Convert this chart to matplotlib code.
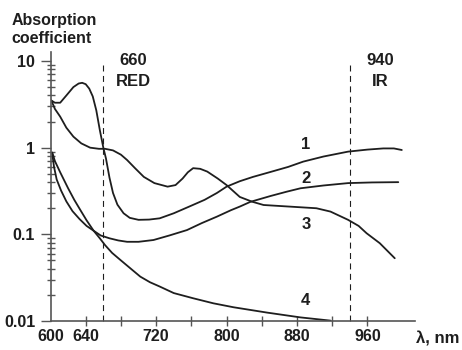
import matplotlib
matplotlib.use("Agg")
import matplotlib.pyplot as plt
from matplotlib.ticker import FixedLocator, LogLocator, NullFormatter

plt.rcParams['font.family'] = ['Liberation Sans', 'DejaVu Sans']
plt.rcParams['font.weight'] = 'bold'
plt.rcParams['lines.scale_dashes'] = False

# ---- data ----
c1_x = [601, 605, 611, 618, 626, 632, 636, 640, 644, 648, 652, 656, 660, 663, 667, 671, 676, 683, 690, 700,
        712, 724, 740, 758, 775, 789, 800, 815, 830, 850, 870, 887, 910, 938, 960, 978, 990, 999]
c1_y = [3.5, 3.3, 3.3, 4.0, 5.0, 5.5, 5.6, 5.4, 4.8, 3.9, 2.7, 1.6, 1.0, 0.75, 0.45, 0.30, 0.22, 0.175, 0.155, 0.147,
        0.148, 0.153, 0.175, 0.21, 0.25, 0.30, 0.355, 0.41, 0.46, 0.525, 0.60, 0.69, 0.79, 0.90, 0.95, 0.98, 0.98, 0.94]

c2_x = [602, 604, 607, 612, 618, 625, 633, 641, 649, 657, 667, 677, 687, 700, 717, 735, 755, 772, 789, 805,
        815, 827, 850, 868, 884, 910, 938, 965, 995]
c2_y = [0.85, 0.6, 0.43, 0.32, 0.24, 0.185, 0.15, 0.125, 0.11, 0.097, 0.09, 0.085, 0.082, 0.082, 0.086, 0.097,
        0.112, 0.135, 0.16, 0.19, 0.209, 0.237, 0.277, 0.31, 0.34, 0.366, 0.39, 0.397, 0.40]

c3_x = [601, 605, 611, 618, 626, 635, 645, 655, 662, 671, 680, 687, 696, 706, 718, 733, 742, 750, 756, 762,
        770, 778, 790, 800, 815, 829, 842, 868, 902, 918, 938, 950, 959, 974, 991]
c3_y = [3.5, 2.8, 2.28, 1.7, 1.34, 1.12, 1.0, 0.97, 0.97, 0.93, 0.83, 0.72, 0.58, 0.46, 0.39, 0.355, 0.37, 0.44,
        0.52, 0.58, 0.57, 0.53, 0.44, 0.37, 0.27, 0.238, 0.218, 0.21, 0.20, 0.183, 0.147, 0.125, 0.103, 0.079, 0.053]

c4_x = [602, 605, 611, 620, 627, 634, 641, 649, 656, 662, 670, 679, 694, 702, 713, 724, 740, 762, 785, 808,
        846, 884, 918]
c4_y = [0.88, 0.7, 0.52, 0.34, 0.25, 0.19, 0.145, 0.11, 0.09, 0.075, 0.061, 0.051, 0.038, 0.0325, 0.028, 0.025,
        0.021, 0.0183, 0.016, 0.0144, 0.0125, 0.011, 0.0101]

curve_labels = ['1', '2', '3', '4']
curve_label_x = [890, 890, 890, 890]
curve_label_y = [0.96, 0.388, 0.1145, 0.01534]

marker_lines_x = [660, 940]
marker_names = [('660', 'RED'), ('940', 'IR')]

x_ticks = [600, 640, 680, 720, 760, 800, 840, 880, 920, 960]
x_tick_labels = ['600', '640', '', '720', '', '800', '', '880', '', '960']
y_ticks = [0.01, 0.1, 1, 10]
y_tick_labels = ['0.01', '0.1', '1', '10']

W, H = 462, 350
ink = '#1e1e1e'
fig = plt.figure(figsize=(W / 100, H / 100), dpi=100)
ax = fig.add_axes([50.5 / W, 29 / H, (415 - 50.5) / W, (321 - 52) / H])

ax.set_yscale('log')
ax.set_xlim(600, 1014)
ax.set_ylim(0.01, 12.7)

for xs, ys in [(c1_x, c1_y), (c2_x, c2_y), (c3_x, c3_y), (c4_x, c4_y)]:
    ax.plot(xs, ys, color=ink, lw=1.3, solid_joinstyle='round', solid_capstyle='round')

for mx in marker_lines_x:
    ax.plot([mx, mx], [0.01, 10], color=ink, lw=0.8, linestyle=(0, (4.3, 3.2)), clip_on=False)

for lab, lx, ly in zip(curve_labels, curve_label_x, curve_label_y):
    ax.text(lx, ly, lab, ha='center', va='baseline', fontsize=12, fontweight='bold', color=ink)

for mx, (num, name) in zip(marker_lines_x, marker_names):
    px = 50.5 + (mx - 600) * 0.88 + (30 if mx == 660 else 30)
    fig.text(px / W, 1 - 65 / H, num, ha='center', va='baseline', fontsize=12, fontweight='bold', color=ink)
    fig.text(px / W, 1 - 86.5 / H, name, ha='center', va='baseline', fontsize=12, fontweight='bold', color=ink)

for s in ['top', 'right']:
    ax.spines[s].set_visible(False)
for s in ['left', 'bottom']:
    ax.spines[s].set_color('#555555')
    ax.spines[s].set_linewidth(1.2)

ax.set_xticks(x_ticks)
ax.set_xticklabels(x_tick_labels)
ax.xaxis.get_major_ticks()[0].tick1line.set_visible(False)
ax.tick_params(axis='x', direction='inout', length=7, width=1, color='#555555', pad=2,
               labelsize=11.5, labelcolor=ink)

ax.yaxis.set_major_locator(FixedLocator(y_ticks))
ax.set_yticklabels(y_tick_labels)
ax.yaxis.set_minor_locator(LogLocator(base=10, subs=[2, 3, 4, 5, 6, 7, 8, 9]))
ax.yaxis.set_minor_formatter(NullFormatter())
ax.tick_params(axis='y', which='major', direction='out', length=7, width=1, color='#555555', pad=4,
               labelsize=11.5, labelcolor=ink)
ax.tick_params(axis='y', which='minor', direction='inout', length=6, width=1, color='#555555')
for t in ax.get_yticklabels():
    t.set_fontweight('bold')
for t in ax.get_xticklabels():
    t.set_fontweight('bold')

fig.text(11.5 / W, 1 - 25 / H, 'Absorption', ha='left', va='baseline', fontsize=11.5, fontweight='bold', color=ink)
fig.text(11.5 / W, 1 - 43 / H, 'coefficient', ha='left', va='baseline', fontsize=11.5, fontweight='bold', color=ink)
fig.text(416.5 / W, 1 - 343 / H, 'λ, nm', ha='left', va='baseline', fontsize=12, fontweight='bold', color=ink)

fig.savefig('out.png', dpi=100, facecolor='white')
